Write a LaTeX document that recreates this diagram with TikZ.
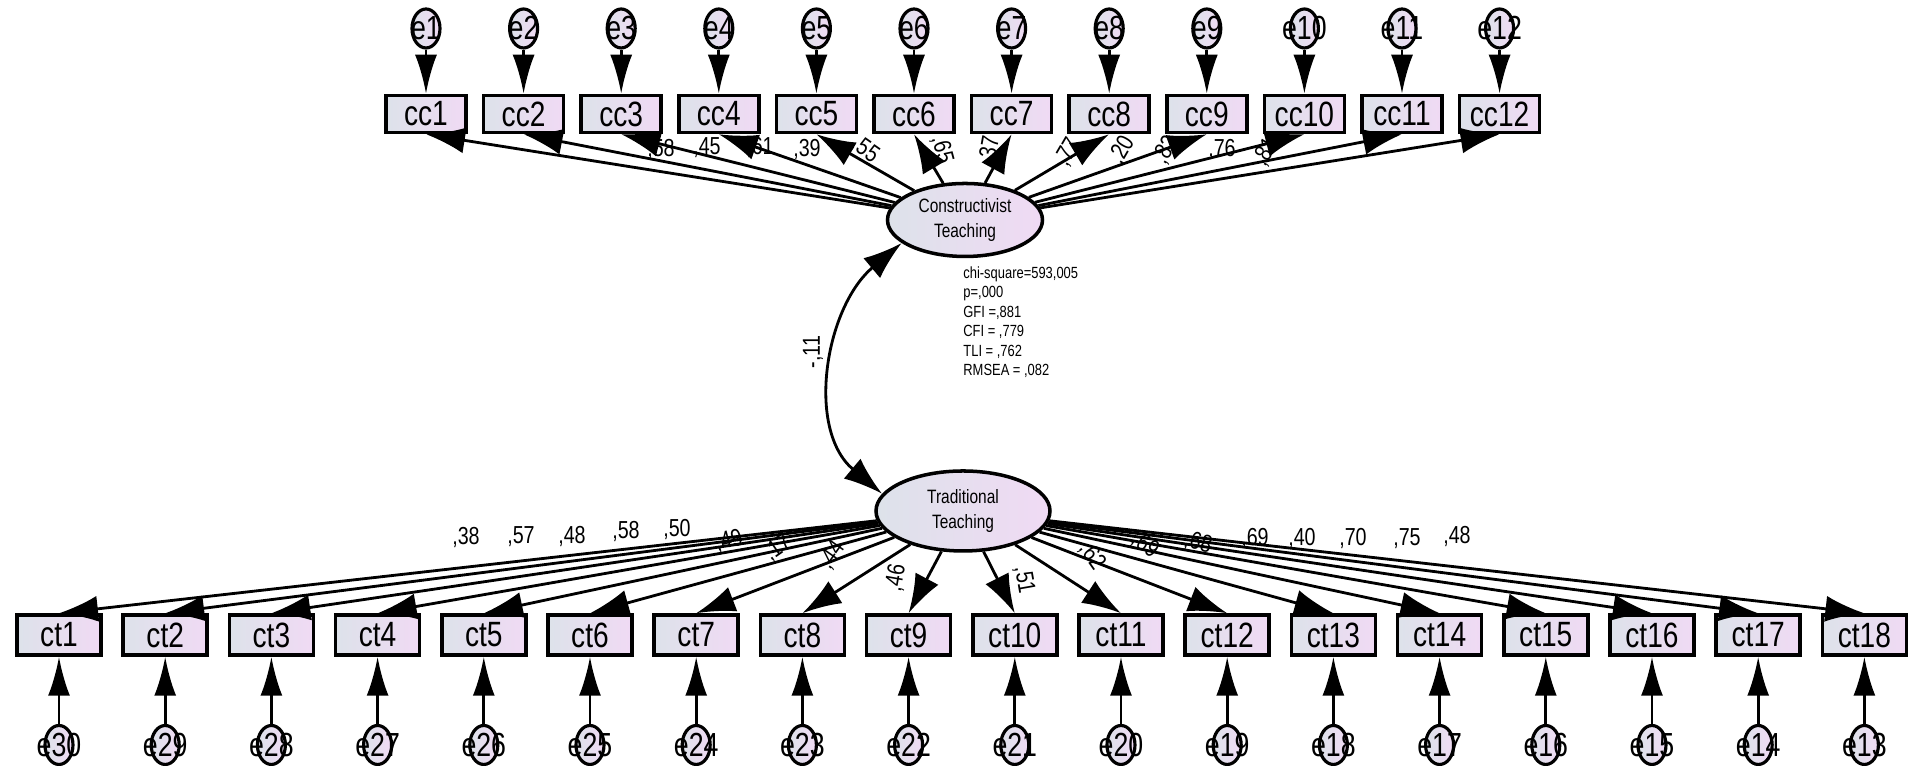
\documentclass[tikz,border=0pt]{standalone}
\usepackage{fontspec}
\setmainfont{Liberation Sans}[FakeStretch=0.8]
\usetikzlibrary{shapes,arrows.meta,calc}
\definecolor{boxleft}{RGB}{221,226,234}
\definecolor{boxright}{RGB}{240,218,244}

\begin{document}
\begin{tikzpicture}[auto, line width=0.8pt, >={Latex[length=3.9mm,width=2.6mm]},
  obs/.style={draw, rectangle, line width=1pt, left color=boxleft, right color=boxright,
    minimum width=0.8cm, minimum height=0.37cm, inner sep=1pt, font=\fontsize{10}{12}\selectfont},
  err/.style={draw, ellipse, line width=0.9pt, left color=boxleft, right color=boxright,
    minimum width=0.28cm, minimum height=0.39cm, inner sep=0pt},
  errtext/.style={font=\fontsize{9.5}{11}\selectfont, inner sep=0pt},
  lat/.style={draw, ellipse, line width=1pt, left color=boxleft, right color=boxright,
    inner sep=0pt, align=center, font=\fontsize{5.5}{7}\selectfont},
  coef/.style={font=\fontsize{7}{8}\selectfont, inner sep=0pt},
  errarrow/.style={-{Latex[length=3.9mm,width=2.2mm]}}]

\useasboundingbox (0,0) rectangle (19.21,7.66);

% constructivist items
\foreach \i [evaluate=\i as \xx using 3.284+0.976*\i] in {1,...,12} {
  \node[obs] (CC\i) at (\xx, 6.52) {cc\i};
  \node[err, label={[errtext]center:e\i}] (E\i) at (\xx, 7.375) {};
  \draw[errarrow] (E\i) -- (CC\i);
}

% traditional items, errors numbered from the right
\foreach \i [evaluate=\i as \xx using -0.472+1.062*\i] in {1,...,18} {
  \pgfmathtruncatemacro\en{31-\i}
  \node[obs, minimum width=0.84cm, minimum height=0.4cm] (CT\i) at (\xx, 1.31) {ct\i};
  \node[err, label={[errtext]center:e\en}] (E\en) at (\xx, 0.21) {};
  \draw[errarrow] (E\en) -- (CT\i);
}

\node[lat, minimum width=1.55cm, minimum height=0.73cm] (CONSTR) at (9.65, 5.46) {Constructivist\\Teaching};
\node[lat, minimum width=1.74cm, minimum height=0.80cm] (TRAD) at (9.63, 2.55) {Traditional\\Teaching};

\node[anchor=north west, align=left, inner sep=0pt, font=\fontsize{4.6}{5.56}\selectfont] (FIT) at (9.62, 5.01)
  {chi-square=593,005\\p=,000\\GFI =,881\\CFI = ,779\\TLI = ,762\\RMSEA = ,082};

% loadings, upper row
\node[coef] (LC1) at (6.61, 6.16) {,58};
\node[coef] (LC2) at (7.07, 6.18) {,45};
\node[coef] (LC3) at (7.60, 6.18) {,61};
\node[coef] (LC4) at (8.07, 6.16) {,39};
\node[coef, rotate=-35] (LC5) at (8.65, 6.16) {,55};
\node[coef, rotate=-75] (LC6) at (9.42, 6.16) {,65};
\node[coef, rotate=80] (LC7) at (9.90, 6.16) {,37};
\node[coef, rotate=60] (LC8) at (10.68, 6.14) {,77};
\node[coef, rotate=60] (LC9) at (11.22, 6.16) {,20};
\node[coef, rotate=60] (LC10) at (11.66, 6.16) {,82};
\node[coef] (LC11) at (12.22, 6.16) {,76};
\node[coef, rotate=60] (LC12) at (12.66, 6.14) {,81};

% loadings, lower row
\node[coef] (LT1) at (4.66, 2.28) {,38};
\node[coef] (LT2) at (5.21, 2.29) {,57};
\node[coef] (LT3) at (5.72, 2.29) {,48};
\node[coef] (LT4) at (6.26, 2.34) {,58};
\node[coef] (LT5) at (6.77, 2.36) {,50};
\node[coef, rotate=15] (LT6) at (7.29, 2.25) {,49};
\node[coef, rotate=35] (LT7) at (7.78, 2.18) {,17};
\node[coef, rotate=55] (LT8) at (8.32, 2.11) {,44};
\node[coef, rotate=80] (LT9) at (8.96, 1.88) {,46};
\node[coef, rotate=-80] (LT10) at (10.24, 1.86) {,51};
\node[coef, rotate=-55] (LT11) at (10.92, 2.10) {,62};
\node[coef, rotate=-35] (LT12) at (11.45, 2.21) {,69};
\node[coef, rotate=-15] (LT13) at (11.98, 2.23) {,68};
\node[coef] (LT14) at (12.55, 2.27) {,69};
\node[coef] (LT15) at (13.02, 2.27) {,40};
\node[coef] (LT16) at (13.53, 2.27) {,70};
\node[coef] (LT17) at (14.07, 2.27) {,75};
\node[coef] (LT18) at (14.57, 2.29) {,48};

\foreach \i in {1,...,12} \draw[->] (CONSTR) -- (CC\i.south);
\foreach \i in {1,...,18} \draw[->] (TRAD) -- (CT\i.north);

\draw[<->] (CONSTR.200) to[out=220, in=140, distance=1cm] (TRAD.168);
\node[coef, rotate=90] (COR) at (8.13, 4.14) {-,11};

\end{tikzpicture}
\end{document}
